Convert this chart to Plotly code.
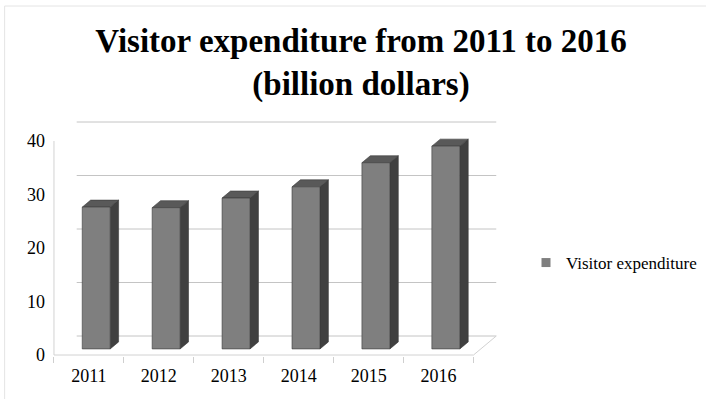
import plotly.graph_objects as go

# Chart data
years = ["2011", "2012", "2013", "2014", "2015", "2016"]
expenditure = [26.5, 26.4, 28.2, 30.3, 34.8, 37.9]
y_ticks = [0, 10, 20, 30, 40]
series_name = "Visitor expenditure"

# Oblique-projection geometry (in axis units)
DEPTH_X = 0.325      # horizontal shift of the back wall
DEPTH_Y = 3.55       # vertical shift of the back wall
BAR_FRONT = 0.32     # depth fraction of the bar front face
BAR_BACK = 0.69      # depth fraction of the bar back face
BAR_W = 0.40

FRONT_C = "#7f7f7f"
SIDE_C = "#404040"
TOP_C = "#595959"
EDGE_C = "#3a3a3a"
GRID_C = "#c4c4c4"
FONT = "Liberation Serif, Times New Roman, serif"

n = len(years)
idx = list(range(n))
fig = go.Figure()

# back wall gridlines
gx, gy = [], []
for t in y_ticks:
    gx += [-0.5 + DEPTH_X, n - 0.5 + DEPTH_X, None]
    gy += [t + DEPTH_Y, t + DEPTH_Y, None]
fig.add_trace(go.Scatter(x=gx, y=gy, mode="lines", line=dict(color=GRID_C, width=1),
                         hoverinfo="skip", showlegend=False))

# floor edges and the front-left vertical edge
fx = [-0.5, -0.5, None, -0.5, n - 0.5, n - 0.5 + DEPTH_X]
fy = [max(y_ticks), 0, None, 0, 0, DEPTH_Y]
fig.add_trace(go.Scatter(x=fx, y=fy, mode="lines", line=dict(color="#d2d2d2", width=1),
                         hoverinfo="skip", showlegend=False))


def face(xs, ys, color):
    fig.add_trace(go.Scatter(x=xs + [xs[0]], y=ys + [ys[0]], mode="lines", fill="toself",
                             fillcolor=color, line=dict(color=EDGE_C, width=0.6),
                             hoverinfo="skip", showlegend=False))


ddx = (BAR_BACK - BAR_FRONT) * DEPTH_X
ddy = (BAR_BACK - BAR_FRONT) * DEPTH_Y
for i, v in zip(idx, expenditure):
    xc = i + BAR_FRONT * DEPTH_X
    base = BAR_FRONT * DEPTH_Y
    xl, xr = xc - BAR_W / 2, xc + BAR_W / 2
    top = base + v
    # right side face
    face([xr, xr, xr + ddx, xr + ddx], [base, top, top + ddy, base + ddy], SIDE_C)
    # top face
    face([xl, xr, xr + ddx, xl + ddx], [top, top, top + ddy, top + ddy], TOP_C)
    # front face
    face([xl, xr, xr, xl], [base, base, top, top], FRONT_C)

# legend entry for the series
fig.add_trace(go.Scatter(x=[None], y=[None], mode="markers", name=series_name,
                         marker=dict(symbol="square", size=9, color=FRONT_C)))

# light outer frame (top and left edges only show)
fig.add_shape(type="rect", xref="paper", yref="paper",
              x0=-48 / 468, x1=(720 - 52) / 468, y0=-60 / 246, y1=(356 - 6) / 246,
              line=dict(color="#e4e4e4", width=1), fillcolor="rgba(0,0,0,0)", layer="below")

fig.update_layout(
    width=706, height=399,
    margin=dict(l=52, r=186, t=110, b=43),
    paper_bgcolor="white", plot_bgcolor="white",
    font=dict(family=FONT, size=18, color="#000000"),
    title=dict(text="<b>Visitor expenditure from 2011 to 2016<br>(billion dollars)</b>",
               font=dict(family=FONT, size=33, color="#000000"),
               x=361 / 706, xanchor="center", xref="container",
               y=1 - 52 / 399, yanchor="top", yref="container"),
    showlegend=True,
    legend=dict(x=526 / 706, xref="container", y=1 - 263 / 399, yref="container",
                yanchor="middle", xanchor="left", font=dict(family=FONT, size=17),
                bgcolor="rgba(0,0,0,0)", itemwidth=30),
    xaxis=dict(range=[-0.5 - 2 / 70.83, n - 0.5 + 41 / 70.83], tickmode="array",
               tickvals=idx, ticktext=years, ticks="", showgrid=False, zeroline=False,
               showline=False, ticklabelstandoff=7, fixedrange=True,
               minor=dict(tickmode="array", tickvals=[i - 0.5 for i in range(n + 1)],
                          ticks="outside", ticklen=6, tickcolor="#cfcfcf", showgrid=False)),
    yaxis=dict(range=[-1 / 5.35, 245 / 5.35], tickmode="array", tickvals=y_ticks,
               ticks="", showgrid=False, zeroline=False, showline=False,
               ticklabelstandoff=6, fixedrange=True),
)

fig.write_html("out.html")
